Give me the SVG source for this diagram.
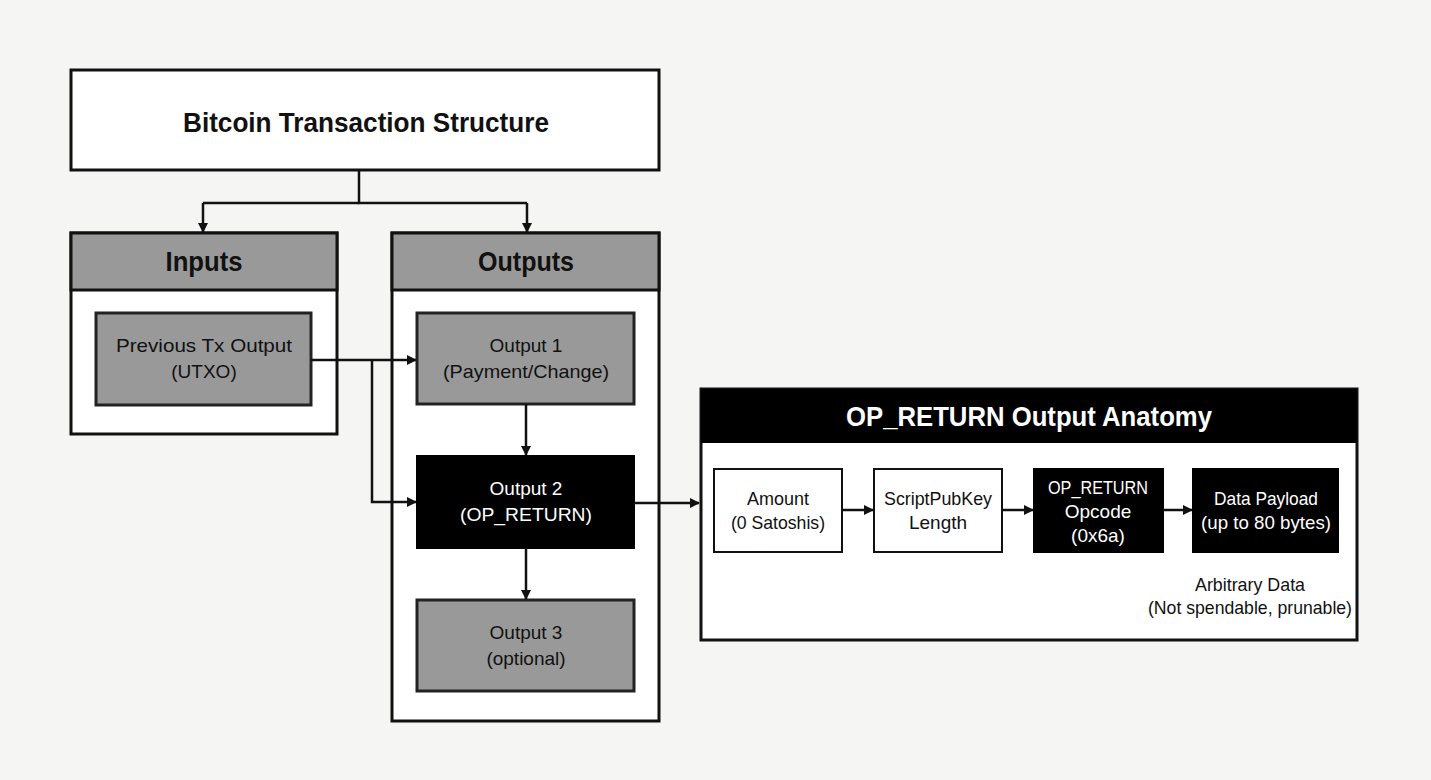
<svg xmlns="http://www.w3.org/2000/svg" width="1431" height="780" viewBox="0 0 1431 780">
<defs>
<marker id="ah" markerWidth="10" markerHeight="10" refX="9" refY="5" orient="auto" markerUnits="userSpaceOnUse" viewBox="0 0 10 10">
<path d="M0,0 L10,5 L0,10 z" fill="#111"/>
</marker>
<style>
text{font-family:"Liberation Sans",Arial,sans-serif;text-anchor:middle;fill:#111}
.frame{fill:#fff;stroke:#111;stroke-width:3}
.hdr{fill:#999;stroke:#111;stroke-width:3}
.gray{fill:#999;stroke:#222;stroke-width:3}
.blk{fill:#000;stroke:#000;stroke-width:2}
.wht{fill:#fff;stroke:#111;stroke-width:2}
.bold{font-weight:bold;font-size:28px}
.lbl{font-size:19px}
.w{fill:#fff}
.con{fill:none;stroke:#111;stroke-width:2.5;marker-end:url(#ah)}
.line{fill:none;stroke:#111;stroke-width:2.5}
</style>
</defs>
<rect width="1431" height="780" fill="#f5f5f4"/>
<g id="title"><rect class="frame" x="71" y="70" width="588" height="100"/><text class="bold" x="366" y="132" textLength="366" lengthAdjust="spacingAndGlyphs">Bitcoin Transaction Structure</text></g>
<g id="inputs"><rect class="frame" x="71" y="233" width="266" height="201"/><rect class="hdr" x="71" y="233" width="266" height="57"/><text class="bold" x="204" y="271" textLength="77" lengthAdjust="spacingAndGlyphs">Inputs</text></g>
<g id="prevtx"><rect class="gray" x="96" y="313" width="215" height="92"/><text class="lbl" x="204" y="352" textLength="176" lengthAdjust="spacingAndGlyphs">Previous Tx Output</text><text class="lbl" x="204" y="378">(UTXO)</text></g>
<g id="outputs"><rect class="frame" x="392" y="233" width="267" height="488"/><rect class="hdr" x="392" y="233" width="267" height="57"/><text class="bold" x="526" y="271" textLength="96" lengthAdjust="spacingAndGlyphs">Outputs</text></g>
<g id="out1"><rect class="gray" x="417" y="313" width="217" height="91"/><text class="lbl" x="526" y="352">Output 1</text><text class="lbl" x="526" y="378" textLength="166" lengthAdjust="spacingAndGlyphs">(Payment/Change)</text></g>
<g id="out2"><rect class="blk" x="417" y="456" width="217" height="92"/><text class="lbl w" x="526" y="495">Output 2</text><text class="lbl w" x="526" y="521" textLength="132" lengthAdjust="spacingAndGlyphs">(OP_RETURN)</text></g>
<g id="out3"><rect class="gray" x="417" y="600" width="217" height="91"/><text class="lbl" x="526" y="639">Output 3</text><text class="lbl" x="526" y="665">(optional)</text></g>
<g id="anatomy"><rect class="frame" x="701" y="389" width="656" height="251"/><rect x="701" y="389" width="656" height="54" fill="#000"/><text class="bold w" x="1029" y="426" textLength="366" lengthAdjust="spacingAndGlyphs">OP_RETURN Output Anatomy</text>
<text class="lbl" x="1250" y="591" textLength="110" lengthAdjust="spacingAndGlyphs">Arbitrary Data</text><text class="lbl" x="1250" y="614" textLength="204" lengthAdjust="spacingAndGlyphs">(Not spendable, prunable)</text></g>
<g id="amount"><rect class="wht" x="714" y="469" width="128" height="83"/><text class="lbl" x="778" y="505" textLength="62" lengthAdjust="spacingAndGlyphs">Amount</text><text class="lbl" x="778" y="529" textLength="94" lengthAdjust="spacingAndGlyphs">(0 Satoshis)</text></g>
<g id="spklen"><rect class="wht" x="874" y="469" width="128" height="83"/><text class="lbl" x="938" y="505" textLength="108" lengthAdjust="spacingAndGlyphs">ScriptPubKey</text><text class="lbl" x="938" y="529">Length</text></g>
<g id="opcode"><rect class="blk" x="1034" y="469" width="129" height="83"/><text class="lbl w" x="1098" y="494" textLength="100" lengthAdjust="spacingAndGlyphs">OP_RETURN</text><text class="lbl w" x="1098" y="518">Opcode</text><text class="lbl w" x="1098" y="542">(0x6a)</text></g>
<g id="payload"><rect class="blk" x="1193" y="469" width="145" height="83"/><text class="lbl w" x="1266" y="505" textLength="104" lengthAdjust="spacingAndGlyphs">Data Payload</text><text class="lbl w" x="1266" y="529" textLength="130" lengthAdjust="spacingAndGlyphs">(up to 80 bytes)</text></g>
<g id="connectors">
<path class="line" d="M359,170 V203 H527"/><path class="line" d="M359,203 H203"/>
<path class="con" d="M203,203 V232"/><path class="con" d="M527,203 V232"/>
<path class="con" d="M311,360 H416"/>
<path class="con" d="M372,360 V502 H416"/>
<path class="con" d="M526,404 V455"/>
<path class="con" d="M526,548 V599"/>
<path class="con" d="M634,503 H699"/>
<path class="con" d="M842,510 H873"/>
<path class="con" d="M1002,510 H1033"/>
<path class="con" d="M1163,510 H1192"/>
</g>
</svg>
